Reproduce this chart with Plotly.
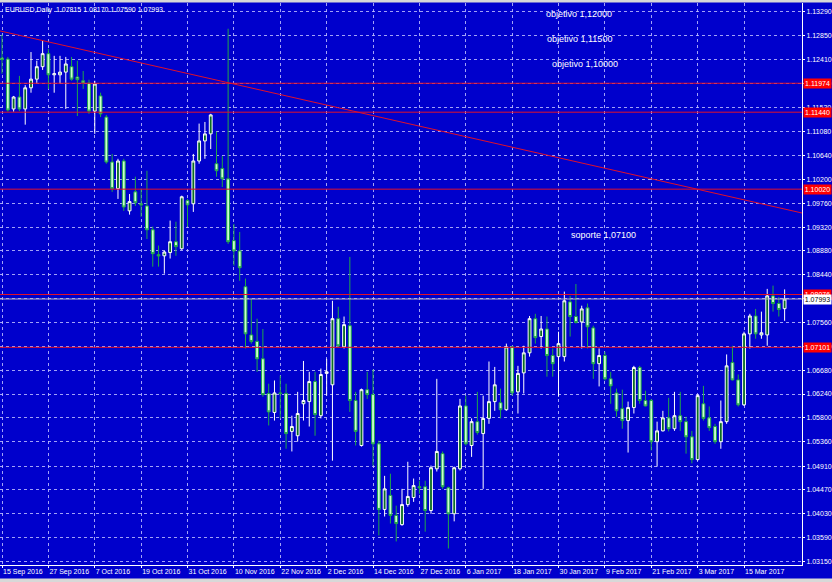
import plotly.graph_objects as go

# ---------------- data ----------------
bars = list(range(136))  # trading-day index, 0 = 15 Sep 2016, 135 = 24 Mar 2017

open_ = [1.1244,1.1242,1.1150,1.1172,1.1150,1.1189,1.1205,1.1228,1.1252,1.1213,
         1.1213,1.1218,1.1228,1.1209,1.1202,1.1198,1.1146,1.1174,1.1135,1.1052,
         1.1003,1.1054,1.0962,1.0997,1.0975,1.0971,1.0927,1.0881,1.0879,1.0885,
         1.0905,1.0892,1.0981,1.0975,1.1054,1.1091,1.1104,1.1049,1.1040,1.1021,
         1.0907,1.0888,1.0822,1.0733,1.0721,1.0689,1.0625,1.0590,1.0626,1.0625,
         1.0555,1.0547,1.0606,1.0610,1.0647,1.0584,1.0662,1.0641,1.0763,1.0711,
         1.0750,1.0612,1.0529,1.0632,1.0623,1.0532,1.0411,1.0437,1.0400,1.0383,
         1.0420,1.0433,1.0453,1.0453,1.0409,1.0486,1.0514,1.0451,1.0403,1.0486,
         1.0602,1.0529,1.0573,1.0551,1.0579,1.0610,1.0608,1.0595,1.0711,1.0628,
         1.0663,1.0700,1.0763,1.0730,1.0744,1.0695,1.0693,1.0693,1.0794,1.0767,
         1.0757,1.0783,1.0746,1.0680,1.0695,1.0652,1.0626,1.0597,1.0575,1.0599,
         1.0673,1.0612,1.0612,1.0536,1.0556,1.0580,1.0560,1.0584,1.0573,1.0545,
         1.0503,1.0606,1.0580,1.0564,1.0536,1.0573,1.0682,1.0650,1.0604,1.0735,
         1.0768,1.0733,1.0733,1.0805,1.0791,1.07815]
high_ = [1.1287,1.1246,1.1174,1.1211,1.1194,1.1255,1.1239,1.1276,1.1261,1.1248,
         1.1248,1.1246,1.1246,1.1239,1.1220,1.1204,1.1202,1.1180,1.1139,1.1067,
         1.1058,1.1058,1.0993,1.1025,1.1003,1.1036,1.0933,1.0898,1.0888,1.0944,
         1.0942,1.0990,1.0984,1.1067,1.1123,1.1126,1.1141,1.1108,1.1063,1.1298,
         1.0938,1.0923,1.0837,1.0800,1.0763,1.0744,1.0643,1.0649,1.0658,1.0643,
         1.0584,1.0628,1.0685,1.0665,1.0665,1.0671,1.0689,1.0796,1.0785,1.0767,
         1.0877,1.0628,1.0634,1.0665,1.0669,1.0538,1.0473,1.0477,1.0418,1.0449,
         1.0499,1.0468,1.0464,1.0464,1.0492,1.0652,1.0518,1.0453,1.0490,1.0615,
         1.0621,1.0579,1.0628,1.0621,1.0684,1.0674,1.0634,1.0717,1.0713,1.0676,
         1.0713,1.0768,1.0772,1.0768,1.0767,1.0708,1.0739,1.0813,1.0805,1.0827,
         1.0787,1.0791,1.0750,1.0708,1.0702,1.0665,1.0634,1.0632,1.0610,1.0676,
         1.0676,1.0630,1.0615,1.0573,1.0593,1.0617,1.0628,1.0628,1.0582,1.0556,
         1.0623,1.0639,1.0601,1.0569,1.0612,1.0697,1.0713,1.0660,1.0739,1.0772,
         1.0781,1.0776,1.0818,1.0824,1.0803,1.08170]
low_ = [1.1215,1.1145,1.1145,1.1146,1.1121,1.1180,1.1198,1.1222,1.1187,1.1180,
        1.1196,1.1150,1.1202,1.1137,1.1187,1.1141,1.1104,1.1135,1.1049,1.0997,
        1.0984,1.0962,1.0955,1.0971,1.0951,1.0910,1.0859,1.0859,1.0846,1.0874,
        1.0879,1.0890,1.0933,1.0960,1.1049,1.1058,1.1076,1.1025,1.1006,1.0901,
        1.0861,1.0833,1.0708,1.0717,1.0665,1.0619,1.0566,1.0575,1.0579,1.0523,
        1.0518,1.0536,1.0575,1.0564,1.0547,1.0579,1.0621,1.0501,1.0711,1.0708,
        1.0591,1.0529,1.0527,1.0615,1.0492,1.0363,1.0398,1.0385,1.0352,1.0381,
        1.0416,1.0425,1.0440,1.0370,1.0403,1.0481,1.0449,1.0339,1.0389,1.0483,
        1.0529,1.0508,1.0549,1.0449,1.0569,1.0593,1.0579,1.0593,1.0621,1.0588,
        1.0625,1.0693,1.0717,1.0708,1.0656,1.0656,1.0619,1.0684,1.0730,1.0754,
        1.0708,1.0708,1.0652,1.0638,1.0649,1.0606,1.0582,1.0560,1.0516,1.0588,
        1.0606,1.0601,1.0520,1.0490,1.0555,1.0555,1.0556,1.0556,1.0514,1.0496,
        1.0501,1.0575,1.0556,1.0532,1.0523,1.0569,1.0649,1.0601,1.0602,1.0708,
        1.0726,1.0726,1.0713,1.0776,1.0767,1.07590]
close_ = [1.1241,1.1148,1.1172,1.1150,1.1189,1.1205,1.1228,1.1252,1.1213,1.1215,
          1.1218,1.1233,1.1205,1.1204,1.1198,1.1146,1.1196,1.1141,1.1052,1.1003,
          1.1054,1.0969,1.0979,1.0977,1.0973,1.0927,1.0883,1.0879,1.0886,1.0905,
          1.0896,1.0988,1.0973,1.1054,1.1091,1.1104,1.1139,1.1036,1.1021,1.0905,
          1.0888,1.0857,1.0735,1.0721,1.0689,1.0623,1.0591,1.0626,1.0625,1.0551,
          1.0564,1.0588,1.0612,1.0647,1.0586,1.0660,1.0665,1.0763,1.0713,1.0752,
          1.0612,1.0555,1.0632,1.0623,1.0532,1.0411,1.0449,1.0400,1.0385,1.0420,
          1.0435,1.0455,1.0451,1.0409,1.0488,1.0518,1.0453,1.0403,1.0488,1.0602,
          1.0532,1.0573,1.0553,1.0579,1.0610,1.0641,1.0595,1.0711,1.0626,1.0662,
          1.0700,1.0763,1.0728,1.0744,1.0695,1.0680,1.0717,1.0796,1.0767,1.0756,
          1.0781,1.0748,1.0680,1.0695,1.0652,1.0639,1.0593,1.0575,1.0599,1.0673,
          1.0612,1.0602,1.0536,1.0556,1.0580,1.0560,1.0584,1.0573,1.0545,1.0503,
          1.0621,1.0579,1.0562,1.0536,1.0573,1.0676,1.0650,1.0604,1.0735,1.0768,
          1.0735,1.0737,1.0805,1.0791,1.0780,1.07993]

date_tick_bars = [0, 8, 16, 24, 32, 40, 48, 56, 64, 72, 80, 88, 96, 104, 112, 120, 128]
date_tick_labels = ["15 Sep 2016", "27 Sep 2016", "7 Oct 2016", "19 Oct 2016", "31 Oct 2016",
                    "10 Nov 2016", "22 Nov 2016", "2 Dec 2016", "14 Dec 2016", "27 Dec 2016",
                    "6 Jan 2017", "18 Jan 2017", "30 Jan 2017", "9 Feb 2017", "21 Feb 2017",
                    "3 Mar 2017", "15 Mar 2017"]

price_ticks = [1.03150, 1.03590, 1.04030, 1.04470, 1.04910, 1.05360, 1.05800, 1.06240,
               1.06680, 1.07120, 1.07560, 1.08000, 1.08440, 1.08880, 1.09320, 1.09760,
               1.10200, 1.10640, 1.11080, 1.11530, 1.11970, 1.12410, 1.12850, 1.13290]

level_prices = [1.11974, 1.11440, 1.10020, 1.08076, 1.07101]
current_price = 1.07993

trend_x = [-0.35, 138.0]
trend_y = [1.1294, 1.0958]

note_texts = ["objetivo 1,12000", "objetivo 1,11500", "objetivo 1,10000", "soporte 1,07100"]
note_x = [99.5, 99.7, 100.6, 103.7]
note_y = [1.1325, 1.1279, 1.1233, 1.0918]

header_text = "EURUSD,Daily  1.07815 1.08170 1.07590 1.07993"

# ---------------- figure ----------------
BG = "#0000cc"
GRID = "rgba(190,190,255,0.85)"
FONT = "Liberation Sans"
W, H = 832, 582
ML, MR, MT, MB = 0, 30, 3, 17
PW, PH = W - ML - MR, H - MT - MB

fig = go.Figure()

fig.add_trace(go.Candlestick(
    x=bars, open=open_, high=high_, low=low_, close=close_,
    increasing=dict(line=dict(color="#ffffff", width=1), fillcolor="#0b6e22"),
    decreasing=dict(line=dict(color="#1fa64a", width=1), fillcolor="#ccffcc"),
    whiskerwidth=0, hoverinfo="skip", showlegend=False,
))

fig.add_trace(go.Scatter(
    x=trend_x, y=trend_y, mode="lines",
    line=dict(color="#e0102a", width=1), hoverinfo="skip", showlegend=False,
))

shapes = []
for p in level_prices:
    shapes.append(dict(type="line", xref="paper", x0=0, x1=1, yref="y", y0=p, y1=p,
                       line=dict(color="#e0102a", width=1), layer="above"))
shapes.append(dict(type="line", xref="paper", x0=0, x1=1, yref="y", y0=current_price,
                   y1=current_price, line=dict(color="#b8b8c8", width=1), layer="above"))
# window borders (light grey strips top and bottom)
shapes.append(dict(type="rect", xref="paper", yref="paper", x0=-0.01, x1=1.05,
                   y0=1.0 + 0.5 / PH, y1=1.0 + 4 / PH, fillcolor="#d8d8d8",
                   line=dict(width=0), layer="above"))
shapes.append(dict(type="rect", xref="paper", yref="paper", x0=-0.01, x1=1.05,
                   y0=-18 / PH, y1=-13.5 / PH, fillcolor="#d8d8d8", line=dict(width=0),
                   layer="above"))

annotations = []
for p in level_prices:
    annotations.append(dict(xref="paper", x=1.0, xanchor="left", yref="y", y=p,
                            yanchor="middle", text=f"{p:.5f}", showarrow=False,
                            font=dict(family=FONT, size=7, color="#ffffff"),
                            bgcolor="#ff0000", borderpad=0, xshift=1, width=27, height=9))
annotations.append(dict(xref="paper", x=1.0, xanchor="left", yref="y", y=current_price,
                        yanchor="middle", text=f"{current_price:.5f}", showarrow=False,
                        font=dict(family=FONT, size=7, color="#000000"),
                        bgcolor="#ffffff", borderpad=0, xshift=1, width=27, height=9))
for t, x, y in zip(note_texts, note_x, note_y):
    annotations.append(dict(x=x, y=y, xref="x", yref="y", text=t, showarrow=False,
                            font=dict(family=FONT, size=9, color="#ffffff")))
annotations.append(dict(xref="paper", yref="paper", x=0.004, y=0.998, xanchor="left",
                        yanchor="top", text=header_text, showarrow=False,
                        font=dict(family=FONT, size=7, color="#ffffff")))

fig.update_layout(
    width=W, height=H,
    margin=dict(l=ML, r=MR, t=MT, b=MB, pad=0, autoexpand=False),
    paper_bgcolor=BG, plot_bgcolor=BG,
    shapes=shapes, annotations=annotations,
    showlegend=False, hovermode=False,
    font=dict(family=FONT, size=7, color="#ffffff"),
    xaxis=dict(
        range=[-0.35, 138.0], rangeslider=dict(visible=False), automargin=False,
        tickmode="array", tickvals=date_tick_bars, ticktext=date_tick_labels,
        tickangle=0, ticklabelposition="outside right", ticks="outside", ticklen=2,
        tickcolor="#ffffff", tickfont=dict(family=FONT, size=7, color="#ffffff"),
        showgrid=True, gridcolor=GRID, griddash="3px,3px", gridwidth=1,
        showline=True, linecolor="#ffffff", linewidth=1, zeroline=False,
        fixedrange=True,
    ),
    yaxis=dict(
        range=[1.03085, 1.13455], side="right", automargin=False,
        tickmode="array", tickvals=price_ticks,
        ticktext=[f"{v:.5f}" for v in price_ticks],
        ticks="outside", ticklen=2, tickcolor="#ffffff",
        tickfont=dict(family=FONT, size=7, color="#ffffff"),
        showgrid=True, gridcolor=GRID, griddash="3px,3px", gridwidth=1,
        showline=True, linecolor="#ffffff", linewidth=1, zeroline=False,
        fixedrange=True,
    ),
)

fig.write_html(
    "out.html",
    config={"displayModeBar": False, "staticPlot": True},
    post_script="document.body.style.margin='0';document.body.style.background='#0000cc';",
)
